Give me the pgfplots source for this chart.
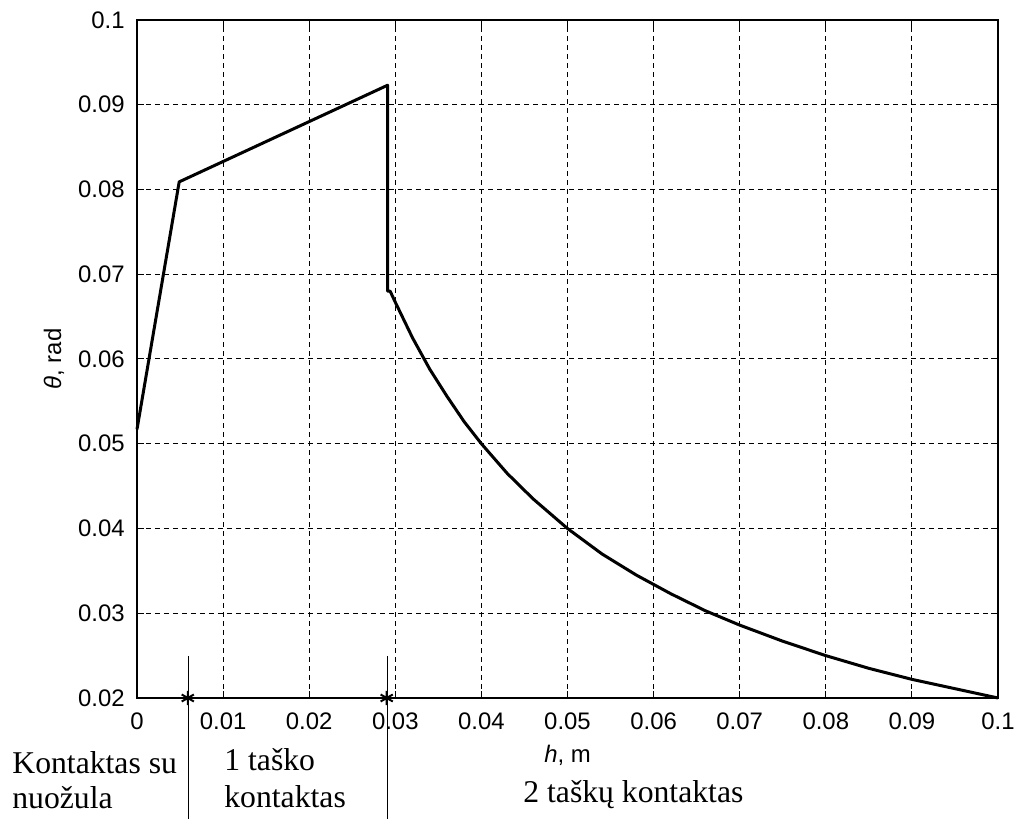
\documentclass[border=0pt]{standalone}
\usepackage{fontspec}
\setmainfont{Liberation Serif}
\newfontfamily\axfont{Liberation Sans}
\usepackage{pgfplots}
\pgfplotsset{compat=1.18}
\begin{document}
\begin{tikzpicture}
\begin{axis}[
  at={(0,0)}, anchor=south west,
  scale only axis, width=430.5bp, height=339bp,
  xmin=0, xmax=0.1, ymin=0.02, ymax=0.1,
  xtick={0,0.01,0.02,0.03,0.04,0.05,0.06,0.07,0.08,0.09,0.1},
  xticklabels={0,0.01,0.02,0.03,0.04,0.05,0.06,0.07,0.08,0.09,0.1},
  ytick={0.02,0.03,0.04,0.05,0.06,0.07,0.08,0.09,0.1},
  yticklabels={0.02,0.03,0.04,0.05,0.06,0.07,0.08,0.09,0.1},
  scaled ticks=false,
  tick align=inside, major tick length=3.5bp,
  xtick pos=both, ytick pos=both,
  grid=major,
  major grid style={black, dash pattern=on 2.5bp off 2bp, line width=0.5bp},
  axis line style={line width=0.6bp},
  every tick/.style={black, line width=0.5bp},
  tick label style={font=\axfont\fontsize{12}{14}\selectfont, inner sep=0pt},
  xticklabel shift=7bp, yticklabel shift=6bp,
  clip=false,
  xlabel={\textit{h}, m}, ylabel={\textit{θ}, rad},
  every axis x label/.style={at={(axis description cs:0.5,0)}, anchor=center, yshift=-28.5bp, font=\axfont\fontsize{12}{14}\selectfont},
  every axis y label/.style={at={(axis description cs:-0.0964,0.5)}, anchor=center, rotate=90, font=\axfont\fontsize{12}{14}\selectfont},
]
\addplot[black, line width=1.5bp, line join=round] coordinates {
(0,0.0517) (0.0049,0.0809) (0.0291,0.0923) (0.0291,0.0680)
(0.0294,0.0680) (0.030,0.0667) (0.032,0.0625) (0.034,0.0588) (0.036,0.0556)
(0.038,0.0526) (0.040,0.0500) (0.043,0.0465) (0.046,0.0435) (0.050,0.0400)
(0.054,0.0370) (0.058,0.0345) (0.062,0.0323) (0.066,0.0303) (0.070,0.0286)
(0.075,0.0267) (0.080,0.0250) (0.085,0.0235) (0.090,0.0222) (0.095,0.0211)
(0.100,0.0200)};
\addplot[only marks, mark=asterisk, mark size=3.5bp, black, mark options={line width=1bp}] coordinates {(0.0059,0.02) (0.0290,0.02)};
\end{axis}
\draw[line width=0.5bp] (25.5bp,21bp) -- (25.5bp,-60.5bp);
\draw[line width=0.5bp] (125bp,21bp) -- (125bp,-60.5bp);
\begin{scope}[every node/.style={inner sep=0pt, anchor=base west, font=\fontsize{15.9}{18}\selectfont}]
\node at (-62.5bp,-37.5bp) {Kontaktas su};
\node at (-62.5bp,-55bp) {nuožula};
\node at (43.5bp,-36bp) {1 taško};
\node at (43.5bp,-54.5bp) {kontaktas};
\node at (193bp,-52bp) {2 taškų kontaktas};
\end{scope}
\pgfresetboundingbox
\useasboundingbox (-68.5bp,-60.5bp) rectangle (440.5bp,349bp);
\end{tikzpicture}
\end{document}
